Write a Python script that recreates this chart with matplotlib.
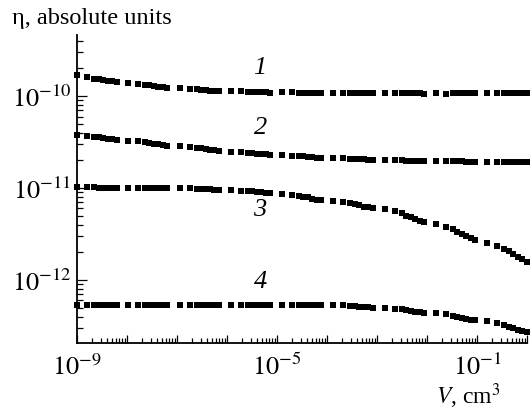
import numpy as np
import matplotlib
matplotlib.use('Agg')
import matplotlib.pyplot as plt
from matplotlib.ticker import LogLocator, FixedLocator, FuncFormatter, NullFormatter

# sample volume groups: start of each run (log10 V, cm^3) and offsets inside a run
group_start = [-9.0, -7.99, -6.95, -5.92, -4.90, -3.87, -2.84, -1.82, -0.79]
group_step = [0.0, 0.20, 0.34, 0.43, 0.52, 0.61, 0.70, 0.79]

# curve 1, units of 1e-10
eta1 = [1.70, 1.62, 1.55, 1.52, 1.50, 1.47, 1.45, 1.43,
        1.40, 1.37, 1.33, 1.31, 1.29, 1.27, 1.25, 1.23,
        1.22, 1.20, 1.18, 1.17, 1.16, 1.15, 1.14, 1.13,
        1.14, 1.13, 1.12, 1.12, 1.11, 1.11, 1.10, 1.09,
        1.10, 1.10, 1.09, 1.09, 1.09, 1.09, 1.09, 1.09,
        1.09, 1.07, 1.08, 1.08, 1.08, 1.08, 1.08, 1.08,
        1.09, 1.08, 1.08, 1.08, 1.08, 1.07, 1.07, 1.06,
        1.08, 1.06, 1.07, 1.07, 1.07, 1.07, 1.08, 1.08,
        1.08, 1.07, 1.07, 1.07, 1.08, 1.08, 1.08, 1.08]
# curve 2, units of 1e-11
eta2 = [3.77, 3.68, 3.60, 3.55, 3.50, 3.45, 3.40, 3.35,
        3.28, 3.22, 3.15, 3.10, 3.05, 3.00, 2.95, 2.88,
        2.85, 2.80, 2.75, 2.70, 2.66, 2.62, 2.57, 2.52,
        2.48, 2.45, 2.42, 2.40, 2.37, 2.35, 2.32, 2.29,
        2.28, 2.26, 2.24, 2.22, 2.20, 2.18, 2.15, 2.12,
        2.12, 2.10, 2.09, 2.07, 2.06, 2.05, 2.03, 2.01,
        2.01, 2.00, 2.00, 1.99, 1.98, 1.98, 1.97, 1.96,
        1.97, 1.96, 1.96, 1.95, 1.95, 1.94, 1.93, 1.93,
        1.93, 1.93, 1.92, 1.92, 1.92, 1.92, 1.92, 1.92]
# curve 3, units of 1e-12
eta3 = [10.3, 10.2, 10.2, 10.1, 10.1, 10.1, 10.0, 10.0,
        10.0, 10.0, 10.0, 10.0, 10.0, 9.9, 9.9, 9.9,
        9.9, 9.9, 9.8, 9.8, 9.7, 9.7, 9.6, 9.5,
        9.5, 9.4, 9.3, 9.2, 9.1, 9.0, 8.9, 8.8,
        8.6, 8.4, 8.2, 8.0, 7.9, 7.7, 7.5, 7.4,
        7.3, 7.1, 6.9, 6.7, 6.5, 6.3, 6.2, 6.05,
        5.9, 5.6, 5.3, 5.0, 4.8, 4.6, 4.4, 4.25,
        4.1, 3.8, 3.55, 3.35, 3.15, 2.98, 2.84, 2.72,
        2.55, 2.35, 2.20, 2.05, 1.92, 1.80, 1.68, 1.57]
# curve 4, units of 1e-13
eta4 = [5.40, 5.40, 5.35, 5.35, 5.35, 5.35, 5.35, 5.35,
        5.35, 5.35, 5.35, 5.35, 5.35, 5.35, 5.35, 5.35,
        5.35, 5.35, 5.35, 5.35, 5.35, 5.35, 5.35, 5.35,
        5.35, 5.35, 5.35, 5.35, 5.35, 5.35, 5.35, 5.35,
        5.40, 5.35, 5.35, 5.35, 5.35, 5.35, 5.30, 5.30,
        5.35, 5.30, 5.25, 5.20, 5.15, 5.10, 5.05, 4.97,
        5.00, 4.90, 4.80, 4.70, 4.60, 4.55, 4.45, 4.38,
        4.40, 4.25, 4.10, 4.00, 3.90, 3.80, 3.72, 3.67,
        3.60, 3.40, 3.25, 3.10, 3.00, 2.90, 2.80, 2.72]

curves = [(eta1, 1e-10), (eta2, 1e-11), (eta3, 1e-12), (eta4, 1e-13)]
curve_labels = ['1', '2', '3', '4']
label_pos = [(4.6e-6, 2.0e-10), (4.8e-6, 4.5e-11), (4.6e-6, 5.8e-12), (4.6e-6, 9.5e-13)]

plt.rcParams.update({
    'font.family': 'serif',
    'font.serif': ['Liberation Serif', 'DejaVu Serif'],
    'mathtext.fontset': 'stix',
    'font.size': 17,
})

fig = plt.figure(figsize=(5.3, 4.11), dpi=100)
ax = fig.add_axes([0.1453, 0.1655, 0.849, 0.749])

x = np.array([10 ** (s + d) for s in group_start for d in group_step])
for vals, unit in curves:
    ax.plot(x, np.array(vals) * unit, linestyle='none', marker='s', ms=4.0,
            color='black', mew=0, clip_on=False)

for txt, (lx, ly) in zip(curve_labels, label_pos):
    ax.text(lx, ly, txt, style='italic', fontsize=19, ha='center', va='center')

ax.set_xscale('log')
ax.set_yscale('log')
ax.set_xlim(1e-9, 1e0)
ax.set_ylim(2.07e-13, 4.6e-10)

ax.xaxis.set_major_locator(FixedLocator([10.0 ** k for k in range(-9, 1)]))
ax.xaxis.set_minor_locator(LogLocator(base=10, subs=np.arange(2, 10), numticks=20))
shown = {-9, -5, -1}
ax.xaxis.set_major_formatter(FuncFormatter(
    lambda v, p: r'$10^{%d}$' % round(np.log10(v)) if round(np.log10(v)) in shown else ''))
ax.xaxis.set_minor_formatter(NullFormatter())

ax.yaxis.set_major_locator(FixedLocator([1e-12, 1e-11, 1e-10]))
ax.yaxis.set_minor_locator(LogLocator(base=10, subs=np.arange(2, 10), numticks=20))
ax.yaxis.set_major_formatter(FuncFormatter(lambda v, p: r'$10^{%d}$' % round(np.log10(v))))
ax.yaxis.set_minor_formatter(NullFormatter())

for side in ['top', 'right']:
    ax.spines[side].set_visible(False)
for side in ['left', 'bottom']:
    ax.spines[side].set_linewidth(1.3)

ax.tick_params(which='both', direction='in', width=0.9, labelsize=19)
ax.tick_params(axis='y', which='major', length=7, pad=4)
ax.tick_params(axis='y', which='minor', length=4)
ax.tick_params(axis='x', which='major', length=6, pad=8)
ax.tick_params(axis='x', which='minor', length=3.5)

fig.text(0.022, 0.956, 'η, absolute units', fontsize=17.5, ha='left', va='center')
fig.text(0.883, 0.036, r'$V$, cm$^{3}$', fontsize=17, ha='center', va='center')

fig.savefig('out.png', dpi=100)
